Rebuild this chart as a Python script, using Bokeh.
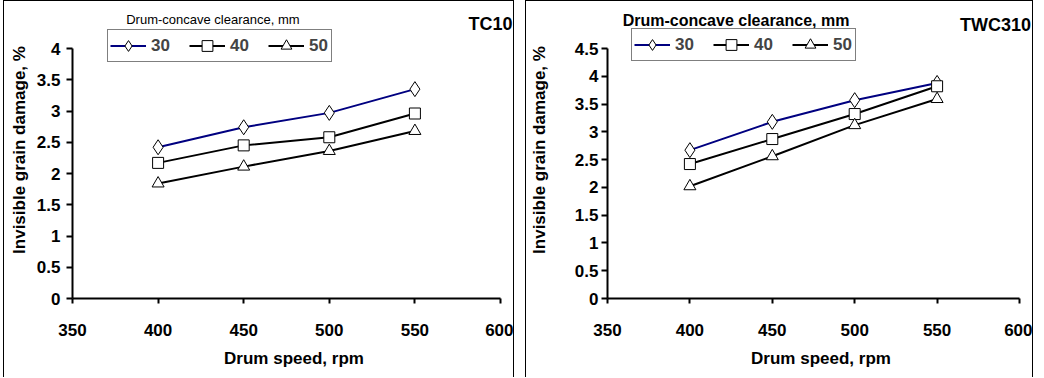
from bokeh.plotting import figure
from bokeh.models import Range1d, FixedTicker, Label, Legend, LegendItem
from bokeh.layouts import row
from bokeh.embed import file_html
from bokeh.resources import INLINE

# ---- data ----
speed = [400, 450, 500, 550]
clearance = ["30", "40", "50"]
tc10_30 = [2.42, 2.74, 2.97, 3.35]
tc10_40 = [2.17, 2.45, 2.58, 2.96]
tc10_50 = [1.84, 2.11, 2.36, 2.68]
twc310_30 = [2.67, 3.18, 3.57, 3.88]
twc310_40 = [2.42, 2.87, 3.32, 3.82]
twc310_50 = [2.02, 2.56, 3.12, 3.59]
x_ticks = [350, 400, 450, 500, 550, 600]
y_ticks_tc10 = [0, 0.5, 1, 1.5, 2, 2.5, 3, 3.5, 4]
y_ticks_twc310 = [0, 0.5, 1, 1.5, 2, 2.5, 3, 3.5, 4, 4.5]
y_labels_tc10 = ["0", "0.5", "1", "1.5", "2", "2.5", "3", "3.5", "4"]
y_labels_twc310 = ["0", "0.5", "1", "1.5", "2", "2.5", "3", "3.5", "4", "4.5"]

FONT = "Liberation Sans"
colors = ["#000080", "black", "black"]
markers = ["diamond", "square", "triangle"]
msizes = [15, 11, 12]

HEIGHT = 377
BOTTOM = 80
AXIS_PX_Y = 250  # pixel length of the drawn y axis


def panel(series, yticks, ylabels, width, left, axis_px_x, ystandoff, ylab_standoff,
          title, title_bold, title_xy, tag, tag_xy, leg_loc, margin):
    frame_w = width - left
    frame_h = HEIGHT - BOTTOM
    x0, x1 = x_ticks[0], x_ticks[-1]
    y_end = yticks[-1] * frame_h / AXIS_PX_Y
    x_end = x0 + (x1 - x0) * frame_w / axis_px_x
    p = figure(width=width, height=HEIGHT, output_backend="svg", toolbar_location=None,
               x_range=Range1d(x0, x_end), y_range=Range1d(0, y_end),
               min_border_left=left, min_border_right=0,
               min_border_top=0, min_border_bottom=BOTTOM, margin=margin)
    p.outline_line_color = None
    p.xgrid.visible = False
    p.ygrid.visible = False
    p.styles = {"border-left": "1px solid black", "border-right": "1px solid black",
                "border-top": "1px solid black"}

    p.xaxis.ticker = FixedTicker(ticks=x_ticks)
    p.yaxis.ticker = FixedTicker(ticks=yticks)
    p.xaxis.bounds = (x0, x1)
    p.yaxis.bounds = (0, yticks[-1])
    p.yaxis.major_label_overrides = {t: l for t, l in zip(yticks, ylabels)}
    for ax in (p.xaxis[0], p.yaxis[0]):
        ax.axis_line_width = 2
        ax.major_tick_line_width = 2
        ax.minor_tick_line_color = None
        ax.major_tick_in = 0
        ax.major_label_text_font = FONT
        ax.major_label_text_font_style = "bold"
        ax.major_label_text_font_size = "17px"
        ax.major_label_text_color = "black"
        ax.axis_label_text_font = FONT
        ax.axis_label_text_font_style = "bold"
        ax.axis_label_text_font_size = "17px"
        ax.axis_label_text_color = "black"
    p.xaxis.major_tick_out = 5
    p.yaxis.major_tick_out = 6
    p.xaxis.major_label_standoff = 20
    p.yaxis.major_label_standoff = ystandoff
    p.xaxis.axis_label = "Drum speed, rpm"
    p.yaxis.axis_label = "Invisible grain damage, %"
    p.xaxis.axis_label_standoff = 10
    p.yaxis.axis_label_standoff = ylab_standoff

    items = []
    for vals, lab, c, m, s in zip(series, clearance, colors, markers, msizes):
        r1 = p.line(speed, vals, line_color=c, line_width=2)
        r2 = p.scatter(speed, vals, marker=m, size=s, fill_color="white",
                       line_color="black", line_width=1)
        items.append(LegendItem(label=lab, renderers=[r1, r2]))

    leg = Legend(items=items, orientation="horizontal", location=leg_loc,
                 border_line_color="black", border_line_width=1,
                 background_fill_color="white", background_fill_alpha=1,
                 label_text_font=FONT, label_text_font_style="bold",
                 label_text_font_size="17px", glyph_width=36, glyph_height=27,
                 label_height=17, label_standoff=5, spacing=18, padding=2, margin=0)
    p.add_layout(leg)

    p.add_layout(Label(x=title_xy[0], y=title_xy[1], text=title, text_font=FONT,
                       text_font_size="13px" if not title_bold else "16px",
                       text_font_style="bold" if title_bold else "normal",
                       text_align="center", text_baseline="middle", text_color="black"))
    p.add_layout(Label(x=tag_xy[0], y=tag_xy[1], text=tag, text_font=FONT,
                       text_font_size="18px", text_font_style="bold",
                       text_align="right", text_baseline="middle", text_color="black"))
    return p


p1 = panel([tc10_30, tc10_40, tc10_50], y_ticks_tc10, y_labels_tc10, 511, 68, 428, 6, 5,
           "Drum-concave clearance, mm", False, (432, 4.47), "TC10", (607, 4.39),
           (35, 236), (0, 0, 0, 3))
p2 = panel([twc310_30, twc310_40, twc310_50], y_ticks_twc310, y_labels_twc310, 508, 81, 412, 3, 23,
           "Drum-concave clearance, mm", True, (428, 5.0), "TWC310", (607, 4.93),
           (24, 237), (0, 0, 0, 11))

layout = row(p1, p2)
open("out.html", "w").write(file_html(layout, INLINE))
